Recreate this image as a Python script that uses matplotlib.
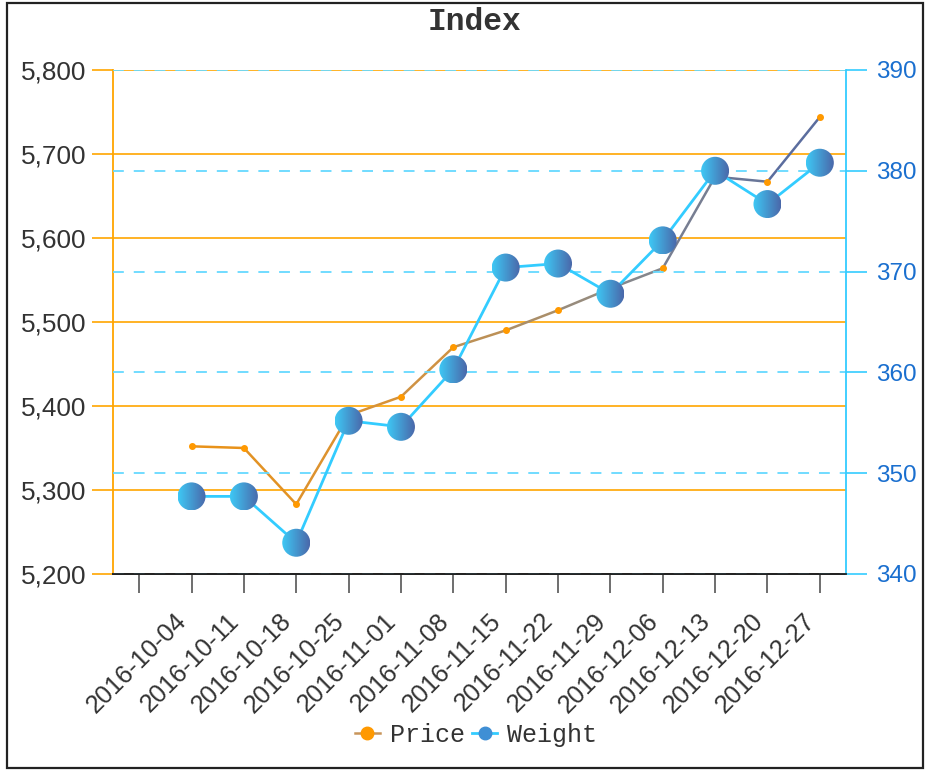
import numpy as np
import matplotlib
matplotlib.use("Agg")
import matplotlib.pyplot as plt
from matplotlib.patches import Ellipse, Rectangle
from matplotlib.collections import LineCollection
from matplotlib.colors import LinearSegmentedColormap
from matplotlib.lines import Line2D
from matplotlib.ticker import FuncFormatter, MultipleLocator

plt.rcParams["font.family"] = ["Liberation Sans", "DejaVu Sans"]

# ---- data ----
dates = ["2016-10-04", "2016-10-11", "2016-10-18", "2016-10-25", "2016-11-01",
         "2016-11-08", "2016-11-15", "2016-11-22", "2016-11-29", "2016-12-06",
         "2016-12-13", "2016-12-20", "2016-12-27"]
price = [5352, 5350, 5283, 5389, 5411, 5470, 5490, 5514, 5540, 5564, 5673, 5667, 5744]
weight = [347.7, 347.7, 343.1, 355.2, 354.6, 360.3, 370.4, 370.8, 367.8, 373.1, 380.0, 376.7, 380.8]
tick_labels = [""] + dates
left_range = (5200, 5800)
right_range = (340, 390)

W, H = 932, 772
fig = plt.figure(figsize=(W / 100, H / 100), dpi=100)
L, R, T, B = 113, 846, 70, 574
ax = fig.add_axes([L / W, (H - B) / H, (R - L) / W, (B - T) / H])
ax2 = ax.twinx()

n = len(dates)
x = np.arange(1, n + 1)
xlim = (-0.5, n + 0.5)

# ---- left axis (Price) ----
ax.set_xlim(*xlim)
ax.set_ylim(*left_range)
ax.yaxis.set_major_locator(MultipleLocator(100))
ax.yaxis.set_major_formatter(FuncFormatter(lambda v, p: f"{v:,.0f}"))
ax.yaxis.grid(True, color="#ffa500", lw=1.2)
ax.set_axisbelow(True)

pts = np.column_stack([x, price])
segs = [pts[i:i + 2] for i in range(n - 1)]
pcmap = LinearSegmentedColormap.from_list(
    "p", [(0, "#e8921a"), (0.35, "#d29240"), (0.7, "#8a8a8a"), (1, "#5b6d9e")])
seg_cols = [pcmap(i / (n - 2)) for i in range(n - 1)]
ax.add_collection(LineCollection(segs, colors=seg_cols, linewidths=1.8, zorder=3))
ax.plot(x, price, "o", ms=4, color="#ff9900", zorder=4)

# ---- right axis (Weight) ----
ax2.set_xlim(*xlim)
ax2.set_ylim(*right_range)
ax2.yaxis.set_major_locator(MultipleLocator(10))
ax2.yaxis.grid(True, color="#66d9ff", lw=1.3, linestyle=(0, (6, 5.5)))
ax2.set_axisbelow(True)
ax2.plot(x, weight, color="#33ccff", lw=2, zorder=3)

# gradient circle markers
r_px = 14
rx = r_px * (xlim[1] - xlim[0]) / (R - L)
ry = r_px * (right_range[1] - right_range[0]) / (B - T)
wcmap = LinearSegmentedColormap.from_list("w", ["#3ec8f5", "#4a68aa"])
grad = np.linspace(0, 1, 64).reshape(1, -1)
for xi, yi in zip(x, weight):
    im = ax2.imshow(grad, cmap=wcmap, extent=[xi - rx, xi + rx, yi - ry, yi + ry],
                    aspect="auto", zorder=5, interpolation="bilinear")
    e = Ellipse((xi, yi), 2 * rx, 2 * ry, transform=ax2.transData,
                facecolor="none", edgecolor="none")
    ax2.add_patch(e)
    im.set_clip_path(e)
ax2.set_xlim(*xlim)
ax2.set_ylim(*right_range)
ax.set_xlim(*xlim)

# ---- ticks & spines ----
ax.set_xticks(np.arange(0, n + 1))
ax.set_xticklabels(tick_labels, rotation=45, ha="right", va="top")
ax.tick_params(axis="x", length=14, width=1.2, color="#555555", labelsize=18.3,
               labelcolor="#333333", pad=11)
ax.tick_params(axis="y", length=15, width=1.2, color="#ffa500", labelsize=18.8,
               labelcolor="#333333", pad=4.3)
ax2.tick_params(axis="y", length=15, width=1.2, color="#33ccff", labelsize=17.5,
                labelcolor="#1a6fcf", pad=7)

for a in (ax, ax2):
    a.spines["top"].set_visible(False)
ax.spines["right"].set_visible(False)
ax.spines["left"].set_color("#ffa500")
ax.spines["left"].set_linewidth(1.3)
ax.spines["bottom"].set_color("#222222")
ax.spines["bottom"].set_linewidth(1.3)
ax2.spines["left"].set_visible(False)
ax2.spines["bottom"].set_color("#222222")
ax2.spines["bottom"].set_linewidth(1.3)
ax2.spines["right"].set_color("#33ccff")
ax2.spines["right"].set_linewidth(1.3)

# ---- title, legend, frame ----
fig.text(475 / W, 1 - 22 / H, "Index", ha="center", va="center",
         fontfamily="Liberation Mono", fontweight="bold", fontsize=22.5, color="#333333")

handles = [
    Line2D([], [], color="#c8955a", lw=1.8, marker="o", ms=9,
           markerfacecolor="#ff9900", markeredgecolor="#ff9900"),
    Line2D([], [], color="#33ccff", lw=2, marker="o", ms=9,
           markerfacecolor="#3f8fd5", markeredgecolor="#3f8fd5"),
]
fig.legend(handles, ["Price", "Weight"], loc="center",
           bbox_to_anchor=(476 / W, 1 - 735 / H), ncol=2, frameon=False,
           prop={"family": "Liberation Mono", "size": 18}, labelcolor="#333333",
           handlelength=1.0, handletextpad=0.4, columnspacing=0.3)

fig.add_artist(Rectangle((7 / W, 4 / H), (923 - 7) / W, (769 - 4) / H,
                         transform=fig.transFigure, fill=False, ec="#222222", lw=1.6))

fig.savefig("out.png", dpi=100)
